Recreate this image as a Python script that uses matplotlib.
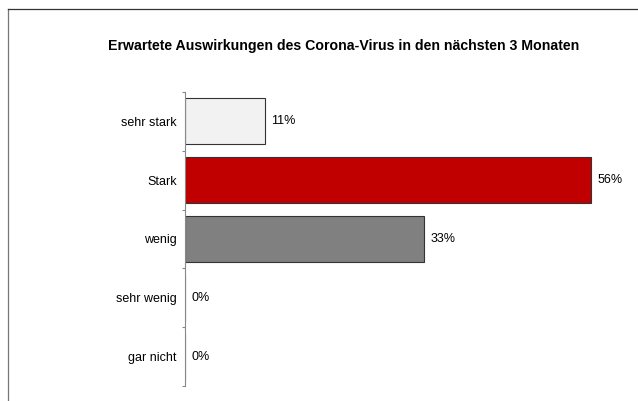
import matplotlib.pyplot as plt
from matplotlib.lines import Line2D

plt.rcParams['font.family'] = ['Liberation Sans', 'DejaVu Sans']

categories = ["sehr stark", "Stark", "wenig", "sehr wenig", "gar nicht"]
shares = [11, 56, 33, 0, 0]
bar_colors = ["#F2F2F2", "#C00000", "#808080", "#808080", "#808080"]

fig = plt.figure(figsize=(6.38, 4.01), dpi=100)
ax = fig.add_axes([185 / 638, 15 / 401, 435 / 638, 294 / 401])

pos = list(range(len(categories)))
ax.barh(pos, shares, height=0.78, color=bar_colors, edgecolor="#333333", linewidth=0.8)
for y, v in zip(pos, shares):
    ax.annotate(f"{v}%", (v, y), xytext=(4.5, 0), textcoords="offset points",
                va="center", ha="left", fontsize=9)

ax.set_xlim(0, 60)
ax.set_ylim(len(categories) - 0.5, -0.5)
ax.set_yticks(pos)
ax.set_yticklabels(categories, fontsize=9)
ax.tick_params(axis="y", which="major", length=0, pad=6)
ax.set_yticks([p - 0.5 for p in pos] + [len(categories) - 0.5], minor=True)
ax.tick_params(axis="y", which="minor", length=2.5, color="#888888", width=0.8)
ax.set_xticks([])
for side in ("top", "right", "bottom"):
    ax.spines[side].set_visible(False)
ax.spines["left"].set_color("#888888")
ax.spines["left"].set_linewidth(0.8)

fig.text(344 / 638, 1 - 46 / 401, "Erwartete Auswirkungen des Corona-Virus in den nächsten 3 Monaten",
         ha="center", va="center", fontsize=10.2, fontweight="bold")

# outer chart frame
fig.add_artist(Line2D([8 / 638, 8 / 638], [0, 1 - 9 / 401], transform=fig.transFigure,
                      color="#777777", linewidth=0.9))
fig.add_artist(Line2D([8 / 638, 1], [1 - 9 / 401, 1 - 9 / 401], transform=fig.transFigure,
                      color="#333333", linewidth=0.9))

fig.savefig("out.png", dpi=100)
